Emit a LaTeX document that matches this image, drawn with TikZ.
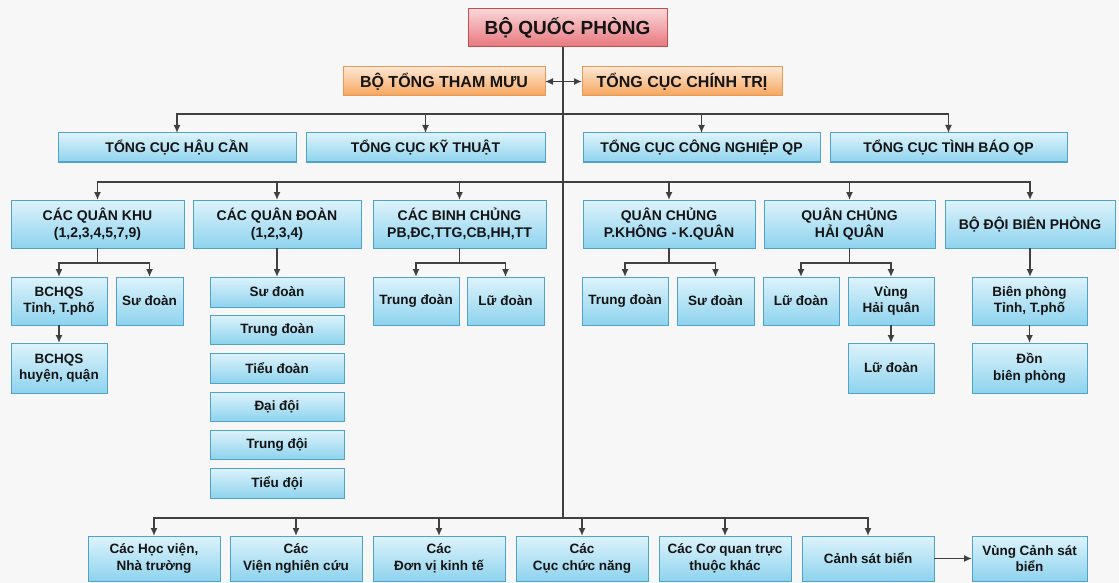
\documentclass[tikz,border=0pt]{standalone}
\usepackage{fontspec}
\setmainfont{Liberation Sans}
\usetikzlibrary{arrows.meta}
\definecolor{bgcol}{HTML}{F7F7F7}
\definecolor{btop}{HTML}{DDF3FB}
\definecolor{bbot}{HTML}{8ED3EE}
\definecolor{bborder}{HTML}{4FA3C6}
\definecolor{rtop}{HTML}{FAD6D8}
\definecolor{rbot}{HTML}{E6767D}
\definecolor{rborder}{HTML}{C0504D}
\definecolor{otop}{HTML}{FDE6D2}
\definecolor{obot}{HTML}{F6A55C}
\definecolor{oborder}{HTML}{E59A55}
\definecolor{lcol}{HTML}{404040}
\definecolor{tcol}{HTML}{141414}
\newcommand{\bx}[7]{\node[#1, minimum width={#4-#2}, minimum height={#5-#3}] (#6) at ({(#2+#4)/2},{(#3+#5)/2}) {#7};}
\tikzset{
  box/.style={draw=bborder, top color=btop, bottom color=bbot, line width=1pt, inner sep=1pt, outer sep=0pt, align=center, text=tcol, font=\bfseries\fontsize{13.5}{16.5}\selectfont},
  capsbox/.style={box, font=\bfseries\fontsize{14}{16.5}\selectfont},
  rbox/.style={box, draw=rborder, top color=rtop, bottom color=rbot, font=\bfseries\fontsize{19}{22}\selectfont},
  obox/.style={box, draw=oborder, top color=otop, bottom color=obot, font=\bfseries\fontsize{16}{18}\selectfont},
  ln/.style={line width=1.5pt, draw=lcol},
  arr/.style={ln, -{Latex[length=8pt,width=7pt]}},
  dbl/.style={ln, {Latex[length=8pt,width=7pt]}-{Latex[length=8pt,width=7pt]}}
}
\begin{document}
\begin{tikzpicture}[x=1pt,y=-1pt]
\fill[bgcol] (0,0) rectangle (1119,583);
\useasboundingbox (0,0) rectangle (1119,583);
% top
\bx{rbox}{468}{9}{667}{47}{bqp}{BỘ QUỐC PHÒNG}
\bx{obox}{343}{67}{545}{96}{btm}{BỘ TỔNG THAM MƯU}
\bx{obox}{582}{67}{782}{96}{cct}{TỔNG CỤC CHÍNH TRỊ}
% row 2
\bx{capsbox}{58}{133}{296}{162}{hc}{TỔNG CỤC HẬU CẦN}
\bx{capsbox}{306}{133}{545}{162}{kt}{TỔNG CỤC KỸ THUẬT}
\bx{capsbox}{583}{133}{820}{162}{cn}{TỔNG CỤC CÔNG NGHIỆP QP}
\bx{capsbox}{830}{133}{1067}{162}{tb}{TỔNG CỤC TÌNH BÁO QP}
% row 3
\bx{capsbox}{11}{200}{184}{248}{qk}{CÁC QUÂN KHU\\(1,2,3,4,5,7,9)}
\bx{capsbox}{193}{200}{361}{248}{qd}{CÁC QUÂN ĐOÀN\\(1,2,3,4)}
\bx{capsbox}{373}{200}{546}{248}{bc}{CÁC BINH CHỦNG\\PB,ĐC,TTG,CB,HH,TT}
\bx{capsbox}{583}{200}{755}{248}{pk}{QUÂN CHỦNG\\P.KHÔNG\,\,-\,K.QUÂN}
\bx{capsbox}{764}{200}{935}{248}{hq}{QUÂN CHỦNG\\HẢI QUÂN}
\bx{capsbox}{945}{200}{1115}{248}{bp}{BỘ ĐỘI BIÊN PHÒNG}
% row 4
\bx{box}{11}{277}{107}{325}{bt}{BCHQS\\Tỉnh, T.phố}
\bx{box}{116}{277}{183}{325}{sd1}{Sư đoàn}
\bx{box}{373}{277}{459}{325}{td1}{Trung đoàn}
\bx{box}{467}{277}{544}{325}{ld1}{Lữ đoàn}
\bx{box}{582}{277}{668}{325}{td2}{Trung đoàn}
\bx{box}{677}{277}{754}{325}{sd2}{Sư đoàn}
\bx{box}{763}{277}{839}{325}{ld2}{Lữ đoàn}
\bx{box}{848}{277}{934}{325}{vhq}{Vùng\\Hải quân}
\bx{box}{972}{277}{1087}{325}{bpt}{Biên phòng\\Tỉnh, T.phố}
% row 5
\bx{box}{11}{343}{107}{393}{bh}{BCHQS\\huyện, quận}
\bx{box}{848}{343}{934}{393}{ld3}{Lữ đoàn}
\bx{box}{972}{343}{1087}{393}{dbp}{Đồn\\biên phòng}
% stack
\bx{box}{210}{277}{344}{307}{s1}{Sư đoàn}
\bx{box}{210}{315}{344}{344}{s2}{Trung đoàn}
\bx{box}{210}{353}{344}{383}{s3}{Tiểu đoàn}
\bx{box}{210}{392}{344}{421}{s4}{Đại đội}
\bx{box}{210}{430}{344}{459}{s5}{Trung đội}
\bx{box}{210}{468}{344}{498}{s6}{Tiểu đội}
% bottom
\bx{box}{88}{536}{220}{581}{hv}{Các Học viện,\\Nhà trường}
\bx{box}{230}{536}{362}{581}{vnc}{Các\\Viện nghiên cứu}
\bx{box}{373}{536}{505}{581}{dvkt}{Các\\Đơn vị kinh tế}
\bx{box}{516}{536}{648}{581}{ccn}{Các\\Cục chức năng}
\bx{box}{659}{536}{791}{581}{cq}{Các Cơ quan trực\\thuộc khác}
\bx{box}{802}{536}{934}{581}{csb}{Cảnh sát biển}
\bx{box}{972}{536}{1087}{581}{vcsb}{Vùng Cảnh sát\\biển}
% junctions
\coordinate (j2) at (563,114);
\coordinate (j3) at (563,182);
\coordinate (jb) at (563,518);
% trunk
\draw[ln] (bqp.south -| jb) -- (jb);
\draw[dbl] (btm.east) -- (cct.west);
% row 2
\draw[arr] (j2) -| (hc.north);
\draw[arr] (j2) -| (kt.north);
\draw[arr] (j2) -| (cn.north);
\draw[arr] (j2) -| (tb.north);
% row 3
\draw[arr] (j3) -| (qk.north);
\draw[arr] (j3) -| (qd.north);
\draw[arr] (j3) -| (bc.north);
\draw[arr] (j3) -| (pk.north);
\draw[arr] (j3) -| (hq.north);
\draw[arr] (j3) -| (bp.north);
% children
\path (qk.south) ++(0,15) coordinate (qkj);
\draw[ln] (qk.south) -- (qkj);
\draw[arr] (qkj) -| (bt.north);
\draw[arr] (qkj) -| (sd1.north);
\draw[arr] (qd.south) -- (s1.north);
\path (bc.south) ++(0,15) coordinate (bcj);
\draw[ln] (bc.south) -- (bcj);
\draw[arr] (bcj) -| (td1.north);
\draw[arr] (bcj) -| (ld1.north);
\path (pk.south) ++(0,15) coordinate (pkj);
\draw[ln] (pk.south) -- (pkj);
\draw[arr] (pkj) -| (td2.north);
\draw[arr] (pkj) -| (sd2.north);
\path (hq.south) ++(0,15) coordinate (hqj);
\draw[ln] (hq.south) -- (hqj);
\draw[arr] (hqj) -| (ld2.north);
\draw[arr] (hqj) -| (vhq.north);
\draw[arr] (bp.south) -- (bp.south |- bpt.north);
\draw[arr] (bt.south) -- (bh.north);
\draw[arr] (vhq.south) -- (ld3.north);
\draw[arr] (bpt.south) -- (dbp.north);
% bottom
\draw[arr] (jb) -| (hv.north);
\draw[arr] (jb) -| (vnc.north);
\draw[arr] (jb) -| (dvkt.north);
\draw[arr] (jb) -| (ccn.north);
\draw[arr] (jb) -| (cq.north);
\draw[arr] (jb) -| (csb.north);
\draw[arr] (csb.east) -- (vcsb.west);
\end{tikzpicture}
\end{document}
